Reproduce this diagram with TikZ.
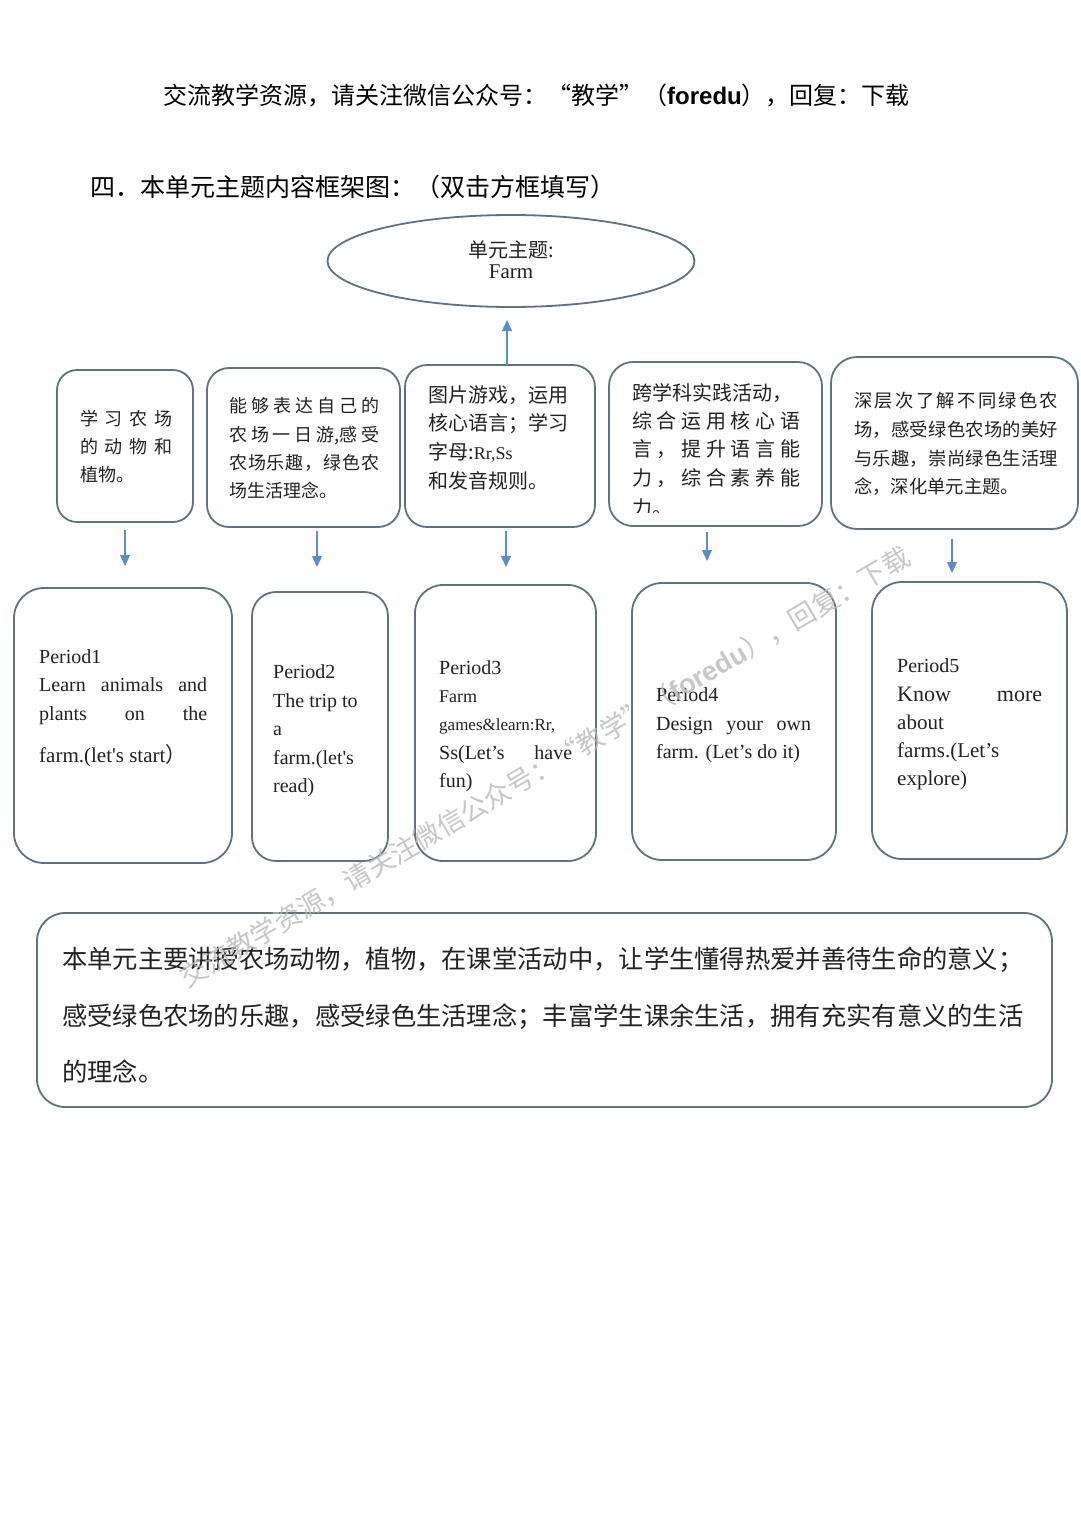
\documentclass[tikz,border=0pt]{standalone}
\usepackage{fontspec}
\setmainfont{Liberation Serif}
\newfontfamily\cjk{Noto Sans CJK SC}
\newfontfamily\hsans{Liberation Sans}
\usetikzlibrary{shapes.geometric,arrows.meta}
\newcommand\jl[2]{\makebox[#1pt][s]{\spaceskip=0pt plus 1fil\relax #2}}
\newcommand\fsz[1]{\fontsize{#1}{#1}\selectfont}
\definecolor{bord}{HTML}{5B7383}
\definecolor{arrc}{HTML}{5B8EC6}
\definecolor{txt}{HTML}{222222}
\begin{document}
\begin{tikzpicture}[x=1pt,y=-1pt,
  box/.style={draw=bord, line width=1.8pt, fill=white, inner sep=0pt},
  cj/.style={font=\cjk\fsz{#1}, text=txt, anchor=base west, inner sep=0pt},
  lt/.style={font=\fsz{#1}, text=txt, anchor=base west, inner sep=0pt},
  arr/.style={draw=arrc, line width=1.3pt, -{Triangle[width=10pt,length=11pt]}}]
\fill[white] (0,0) rectangle (1080,1527);
\useasboundingbox (0,0) rectangle (1080,1527);

% header
\node[cj=24, text=black] (hdr) at (163,104) {交流教学资源，请关注微信公众号：“教学”（{\hsans\bfseries foredu}），回复：下载};
\node[cj=25, text=black] (sec) at (90,196) {四．本单元主题内容框架图：（双击方框填写）};

% ellipse
\node[box, ellipse, minimum width=367pt, minimum height=92pt] (theme) at (511,261) {};
\node[font=\cjk\fsz{20}, text=txt, anchor=base, inner sep=0pt] (th1) at (511,257) {单元主题:};
\node[font=\fsz{21}, text=txt, anchor=base, inner sep=0pt] (th2) at (511,278) {Farm};

% top boxes
\node[box, rounded corners=20pt, minimum width=136pt, minimum height=152pt] (t1) at (125,446) {};
\node[box, rounded corners=22pt, minimum width=193pt, minimum height=159pt] (t2) at (303.5,447.5) {};
\node[box, rounded corners=22pt, minimum width=190pt, minimum height=162pt] (t3) at (500,446) {};
\node[box, rounded corners=24pt, minimum width=213pt, minimum height=164pt] (t4) at (715.5,444) {};
\node[box, rounded corners=26pt, minimum width=247pt, minimum height=172pt] (t5) at (954.5,443) {};

% top box texts
\node[cj=18] (t1a) at (80,425) {\jl{92}{学 习 农 场}};
\node[cj=18] (t1b) at (80,453) {\jl{92}{的 动 物 和}};
\node[cj=18] (t1c) at (80,481) {植物。};

\node[cj=18] (t2a) at (229,412) {\jl{150}{能 够 表 达 自 己 的}};
\node[cj=18] (t2b) at (229,441) {\jl{150}{农 场 一 日 游,感 受}};
\node[cj=18] (t2c) at (229,469) {\jl{150}{农 场 乐 趣 ， 绿 色 农}};
\node[cj=18] (t2d) at (229,497) {场生活理念。};

\node[cj=20] (t3a) at (428,402) {图片游戏，运用};
\node[cj=20] (t3b) at (428,430) {核心语言；学习};
\node[cj=20] (t3c) at (428,459) {字母:{\rmfamily\fsz{18}Rr,Ss}};
\node[cj=20] (t3d) at (428,488) {和发音规则。};

\node[cj=20] (t4a) at (632,400) {跨学科实践活动，};
\node[cj=20] (t4b) at (632,428) {\jl{168}{综 合 运 用 核 心 语}};
\node[cj=20] (t4c) at (632,456) {\jl{168}{言 ， 提 升 语 言 能}};
\node[cj=20] (t4d) at (632,485) {\jl{168}{力 ， 综 合 素 养 能}};
\begin{scope}
\clip (609,362) rectangle (822,512);
\node[cj=20] (t4e) at (632,515) {力。};
\end{scope}

\node[cj=18.3] (t5a) at (854,407) {\jl{204}{深 层 次 了 解 不 同 绿 色 农}};
\node[cj=18.3] (t5b) at (854,436) {\jl{204}{场 ， 感 受 绿 色 农 场 的 美 好}};
\node[cj=18.3] (t5c) at (854,465) {\jl{204}{与 乐 趣 ， 崇 尚 绿 色 生 活 理}};
\node[cj=18.3] (t5d) at (854,493) {念，深化单元主题。};

% bottom boxes
\node[box, rounded corners=30pt, minimum width=218pt, minimum height=275pt] (b1) at (123,725.5) {};
\node[box, rounded corners=24pt, minimum width=136pt, minimum height=269pt] (b2) at (320,726.5) {};
\node[box, rounded corners=28pt, minimum width=181pt, minimum height=276pt] (b3) at (505.5,723) {};
\node[box, rounded corners=30pt, minimum width=204pt, minimum height=277pt] (b4) at (734,721.5) {};
\node[box, rounded corners=30pt, minimum width=195pt, minimum height=277pt] (b5) at (969.5,720.5) {};

\node[lt=20] (b1a) at (39,663) {Period1};
\node[lt=20] (b1b) at (39,691) {\jl{168}{Learn animals and}};
\node[lt=20] (b1c) at (39,720) {\jl{168}{plants on the}};
\node[lt=21] (b1d) at (39,762) {farm.(let\textquotesingle s start{\cjk）}};

\node[lt=20] (b2a) at (273,678) {Period2};
\node[lt=20] (b2b) at (273,707) {The trip to};
\node[lt=20] (b2c) at (273,735) {a};
\node[lt=20] (b2d) at (273,764) {farm.(let\textquotesingle s};
\node[lt=20] (b2e) at (273,792) {read)};

\node[lt=20] (b3a) at (439,674) {Period3};
\node[lt=18] (b3b) at (439,702) {Farm};
\node[lt=17] (b3c) at (439,730) {games\&learn:Rr,};
\node[lt=20] (b3d) at (439,759) {\jl{133}{Ss(Let’s have}};
\node[lt=20] (b3e) at (439,787) {fun)};

\node[lt=20] (b4a) at (656,701) {Period4};
\node[lt=20] (b4b) at (656,730) {\jl{155}{Design your own}};
\node[lt=20] (b4c) at (656,758) {farm. (Let’s do it)};

\node[lt=20] (b5a) at (897,672) {Period5};
\node[lt=22] (b5b) at (897,701) {\jl{145}{Know more}};
\node[lt=21] (b5c) at (897,729) {about};
\node[lt=21] (b5d) at (897,757) {farms.(Let’s};
\node[lt=21] (b5e) at (897,785) {explore)};

% summary
\node[box, rounded corners=28pt, minimum width=1015pt, minimum height=194pt] (sum) at (544.5,1010) {};
\node[cj=25.3] (s1) at (62,968) {本单元主要讲授农场动物，植物，在课堂活动中，让学生懂得热爱并善待生命的意义；};
\node[cj=25.3] (s2) at (62,1025) {感受绿色农场的乐趣，感受绿色生活理念；丰富学生课余生活，拥有充实有意义的生活};
\node[cj=25.3] (s3) at (62,1081) {的理念。};

% arrows
\coordinate (u0) at (507,365);
\coordinate (u1) at (507,320);
\draw[arr] (u0) -- (u1);
\coordinate (d1s) at (125,530); \coordinate (d1e) at (125,566);
\coordinate (d2s) at (317,531); \coordinate (d2e) at (317,567);
\coordinate (d3s) at (506,531); \coordinate (d3e) at (506,567);
\coordinate (d4s) at (707,532); \coordinate (d4e) at (707,561);
\coordinate (d5s) at (952,539); \coordinate (d5e) at (952,573);
\draw[arr] (d1s) -- (d1e);
\draw[arr] (d2s) -- (d2e);
\draw[arr] (d3s) -- (d3e);
\draw[arr] (d4s) -- (d4e);
\draw[arr] (d5s) -- (d5e);

% watermark
\node[font=\cjk\fsz{27}, text=gray!55, opacity=0.8, rotate=30.4, inner sep=0pt] (wm) at (545,767)
  {交流教学资源，请关注微信公众号：“教学”（{\hsans\bfseries foredu}），回复：下载};
\end{tikzpicture}
\end{document}
